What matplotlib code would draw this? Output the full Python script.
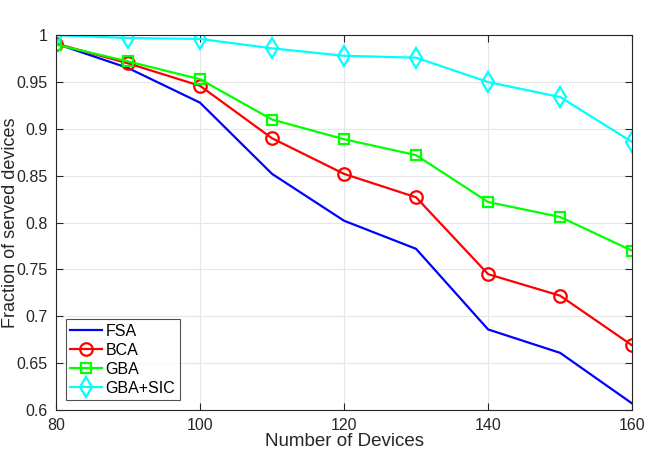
import matplotlib
matplotlib.use("Agg")
import matplotlib.pyplot as plt

plt.rcParams['font.family'] = ['Liberation Sans', 'DejaVu Sans']

devices = [80, 90, 100, 110, 120, 130, 140, 150, 160]
fsa = [0.991, 0.965, 0.928, 0.852, 0.802, 0.772, 0.686, 0.661, 0.607]
bca = [0.991, 0.970, 0.946, 0.890, 0.852, 0.827, 0.745, 0.722, 0.669]
gba = [0.990, 0.972, 0.953, 0.910, 0.889, 0.872, 0.822, 0.806, 0.770]
gba_sic = [1.000, 0.997, 0.996, 0.986, 0.978, 0.976, 0.950, 0.934, 0.886]

fig = plt.figure(figsize=(6.64, 4.57), dpi=100)
ax = fig.add_axes([0.0843, 0.1028, 0.8677, 0.8202])

ax.plot(devices, fsa, color='#0000ff', lw=1.6, label='FSA')
ax.plot(devices, bca, color='#ff0000', lw=1.6, marker='o', ms=9, mfc='none', mew=1.6, label='BCA')
ax.plot(devices, gba, color='#00ff00', lw=1.6, marker='s', ms=7, mfc='none', mew=1.6, label='GBA')
ax.plot(devices, gba_sic, color='#00ffff', lw=1.6, marker='d', ms=10, mfc='none', mew=1.6, label='GBA+SIC')

ax.set_xlim(80, 160)
ax.set_ylim(0.6, 1.0)
ax.set_xticks([80, 100, 120, 140, 160])
ax.set_yticks([0.6, 0.65, 0.7, 0.75, 0.8, 0.85, 0.9, 0.95, 1.0])
ax.set_yticklabels(['0.6', '0.65', '0.7', '0.75', '0.8', '0.85', '0.9', '0.95', '1'])
ax.grid(True, color='#e6e6e6', lw=0.8)
ax.set_axisbelow(True)
ax.tick_params(direction='in', length=5, labelsize=11.5, colors='#262626', top=True, right=True, pad=6)
for s in ax.spines.values():
    s.set_color('#262626')
    s.set_linewidth(0.8)

ax.set_xlabel('Number of Devices', fontsize=13.5, color='#262626', labelpad=0)
ax.set_ylabel('Fraction of served devices', fontsize=13, color='#262626')
ax.yaxis.set_label_coords(-0.064, 0.5)

leg = ax.legend(loc='lower left', fontsize=11.5, frameon=True, fancybox=False,
                edgecolor='#262626', handlelength=2.0, handletextpad=0.2,
                borderpad=0.3, labelspacing=0.25, borderaxespad=0.6)
leg.get_frame().set_linewidth(0.8)

fig.savefig('out.png', dpi=100)
